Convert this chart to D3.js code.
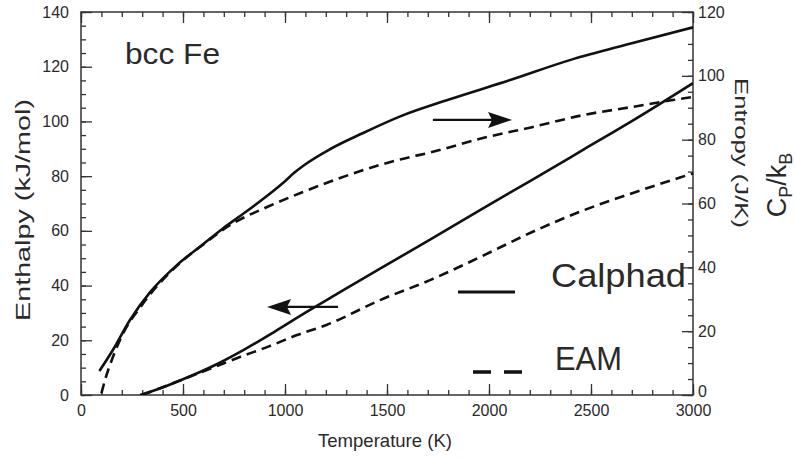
<!DOCTYPE html>
<html>
<head>
<meta charset="utf-8">
<script src="https://cdn.jsdelivr.net/npm/d3@7/dist/d3.min.js"></script>
<style>
  body { margin: 0; background: #fff; }
  text { font-family: "Liberation Sans", Arial, sans-serif; fill: #2a2a2a; }
</style>
</head>
<body>
<div id="chart"></div>
<script>
// values
const calphadEntropyT = [90, 160, 240, 340, 470, 600, 700, 800, 900, 1000, 1045, 1100, 1220, 1380, 1565, 1800, 2100, 2400, 2700, 3000];
const calphadEntropy  = [7.5, 14.5, 23.5, 32.3, 40.7, 47.3, 52.4, 57, 61.8, 67, 69.6, 72.3, 77, 82, 87.3, 92.5, 98.6, 105, 110.2, 115.2];

const eamEntropyT = [100, 120, 150, 200, 300, 470, 600, 730, 912, 1088, 1270, 1466, 1564, 1725, 1970, 2216, 2461, 2706, 2900, 3000];
const eamEntropy  = [0.5, 5.2, 10.8, 18.5, 28.3, 40.5, 47.2, 53.2, 58.9, 63.6, 68, 72.1, 73.8, 76.2, 80.5, 84, 87.7, 90.3, 92.4, 93.4];

const calphadEnthalpyT = [290, 400, 500, 650, 800, 950, 1100, 1270, 1466, 1711, 1956, 2201, 2461, 2700, 3000];
const calphadEnthalpy  = [0, 2.75, 5.75, 10.7, 16.6, 23.2, 30.1, 37.6, 46.2, 56.8, 67.6, 78.2, 89.6, 100.1, 114];

const eamEnthalpyT = [300, 485, 647, 779, 912, 1059, 1206, 1466, 1711, 1956, 2201, 2446, 2691, 2936, 3000];
const eamEnthalpy  = [0, 5.3, 10, 13.9, 17.5, 21.9, 25.7, 34.7, 42, 50.4, 59.2, 67, 73.5, 79.5, 81];

const xTicks = [0, 500, 1000, 1500, 2000, 2500, 3000];
const leftTicks = [0, 20, 40, 60, 80, 100, 120, 140];
const rightTicks = [0, 20, 40, 60, 80, 100, 120];

// arrows: [T tail, T tip, value]
const entropyArrow = [1725, 2113, 86.2];
const enthalpyArrow = [1260, 912, 32.2];

const svg = d3.select('#chart').append('svg')
  .attr('width', 796)
  .attr('height', 460);

const x = d3.scaleLinear().domain([0, 3000]).range([81, 693]);
const yL = d3.scaleLinear().domain([0, 140]).range([395, 12]);
const yR = d3.scaleLinear().domain([0, 120]).range([395, 12]);

svg.append('clipPath').attr('id', 'plot')
  .append('rect')
  .attr('x', 81).attr('y', 12).attr('width', 612).attr('height', 383);

// axes with inward ticks
const styleAxis = (g) => {
  g.select('.domain').remove();
  g.selectAll('line').attr('stroke', '#333').attr('stroke-width', 1.3);
  g.selectAll('text').style('font-size', '16px').attr('fill', '#333');
};

const minorX = d3.range(0, 3001, 100);
const minorL = d3.range(0, 141, 5);
const minorR = d3.range(0, 121, 5);

svg.append('g').attr('transform', 'translate(0,395)')
  .call(d3.axisBottom(x).tickValues(minorX).tickFormat('').tickSize(-5)).call(styleAxis);
svg.append('g').attr('transform', 'translate(0,395)')
  .call(d3.axisBottom(x).tickValues(xTicks).tickFormat(d3.format('d')).tickSize(-11).tickPadding(10)).call(styleAxis);
svg.append('g').attr('transform', 'translate(0,12)')
  .call(d3.axisTop(x).tickValues(minorX).tickFormat('').tickSize(-5)).call(styleAxis);
svg.append('g').attr('transform', 'translate(0,12)')
  .call(d3.axisTop(x).tickValues(xTicks).tickFormat('').tickSize(-11)).call(styleAxis);

svg.append('g').attr('transform', 'translate(81,0)')
  .call(d3.axisLeft(yL).tickValues(minorL).tickFormat('').tickSize(-5)).call(styleAxis);
svg.append('g').attr('transform', 'translate(81,0)')
  .call(d3.axisLeft(yL).tickValues(leftTicks).tickFormat(d3.format('d')).tickSize(-11).tickPadding(12)).call(styleAxis);

svg.append('g').attr('transform', 'translate(693,0)')
  .call(d3.axisRight(yR).tickValues(minorR).tickFormat('').tickSize(-5)).call(styleAxis);
const rightAxis = svg.append('g').attr('transform', 'translate(693,0)')
  .call(d3.axisRight(yR).tickValues(rightTicks).tickFormat(d3.format('d')).tickSize(-11).tickPadding(5)).call(styleAxis);
// the right-hand 0 sits just above the 3000 label
rightAxis.selectAll('text').filter((d) => d === 0).attr('dy', '0.1em');

svg.append('rect')
  .attr('x', 81).attr('y', 12).attr('width', 612).attr('height', 383)
  .attr('fill', 'none').attr('stroke', '#333').attr('stroke-width', 1.5);

// curves
const series = [
  { t: calphadEntropyT, v: calphadEntropy, y: yR, dash: null },
  { t: eamEntropyT, v: eamEntropy, y: yR, dash: '10,6' },
  { t: calphadEnthalpyT, v: calphadEnthalpy, y: yL, dash: null },
  { t: eamEnthalpyT, v: eamEnthalpy, y: yL, dash: '10,6' },
];

series.forEach((s) => {
  const line = d3.line()
    .x((d, i) => x(s.t[i]))
    .y((d) => s.y(d))
    .curve(d3.curveMonotoneX);
  svg.append('path')
    .attr('clip-path', 'url(#plot)')
    .attr('d', line(s.v))
    .attr('fill', 'none')
    .attr('stroke', '#111')
    .attr('stroke-width', 2.6)
    .attr('stroke-dasharray', s.dash);
});

// arrows
const drawArrow = (a, yScale) => {
  const x0 = x(a[0]), x1 = x(a[1]), yy = yScale(a[2]);
  const dir = x1 > x0 ? 1 : -1;
  svg.append('line')
    .attr('x1', x0).attr('x2', x1 - dir * 20)
    .attr('y1', yy).attr('y2', yy)
    .attr('stroke', '#111').attr('stroke-width', 2.2);
  svg.append('path')
    .attr('d', `M${x1},${yy} L${x1 - dir * 24},${yy - 8} L${x1 - dir * 20},${yy} L${x1 - dir * 24},${yy + 8} Z`)
    .attr('fill', '#111');
};
drawArrow(entropyArrow, yR);
drawArrow(enthalpyArrow, yL);

// legend
svg.append('line')
  .attr('x1', 458).attr('x2', 515).attr('y1', 292).attr('y2', 292)
  .attr('stroke', '#111').attr('stroke-width', 3);
svg.append('line')
  .attr('x1', 473).attr('x2', 522).attr('y1', 372).attr('y2', 372)
  .attr('stroke', '#111').attr('stroke-width', 3.5)
  .attr('stroke-dasharray', '18,13');
svg.append('text').attr('x', 551).attr('y', 287)
  .attr('textLength', 135).attr('lengthAdjust', 'spacingAndGlyphs')
  .style('font-size', '33px').text('Calphad');
svg.append('text').attr('x', 555).attr('y', 370)
  .attr('textLength', 67).attr('lengthAdjust', 'spacingAndGlyphs')
  .style('font-size', '33px').text('EAM');

// labels
svg.append('text').attr('x', 125).attr('y', 64)
  .attr('textLength', 95).attr('lengthAdjust', 'spacingAndGlyphs')
  .style('font-size', '30px').attr('fill', '#444').text('bcc Fe');

svg.append('text')
  .attr('x', 385).attr('y', 447)
  .attr('text-anchor', 'middle')
  .attr('textLength', 134).attr('lengthAdjust', 'spacingAndGlyphs')
  .style('font-size', '19px').text('Temperature (K)');

svg.append('text')
  .attr('transform', 'translate(30,210) rotate(-90)')
  .attr('text-anchor', 'middle')
  .attr('textLength', 222).attr('lengthAdjust', 'spacingAndGlyphs')
  .style('font-size', '20px').text('Enthalpy (kJ/mol)');

svg.append('text')
  .attr('transform', 'translate(735,153) rotate(90)')
  .attr('text-anchor', 'middle')
  .attr('textLength', 150).attr('lengthAdjust', 'spacingAndGlyphs')
  .style('font-size', '19px').text('Entropy (J/K)');

const cp = svg.append('text')
  .attr('transform', 'translate(786,185) rotate(-90)')
  .attr('text-anchor', 'middle')
  .style('font-size', '27px');
cp.append('tspan').text('C');
cp.append('tspan').attr('dy', 6).style('font-size', '18px').text('P');
cp.append('tspan').attr('dy', -6).text('/k');
cp.append('tspan').attr('dy', 6).style('font-size', '18px').text('B');
</script>
</body>
</html>
